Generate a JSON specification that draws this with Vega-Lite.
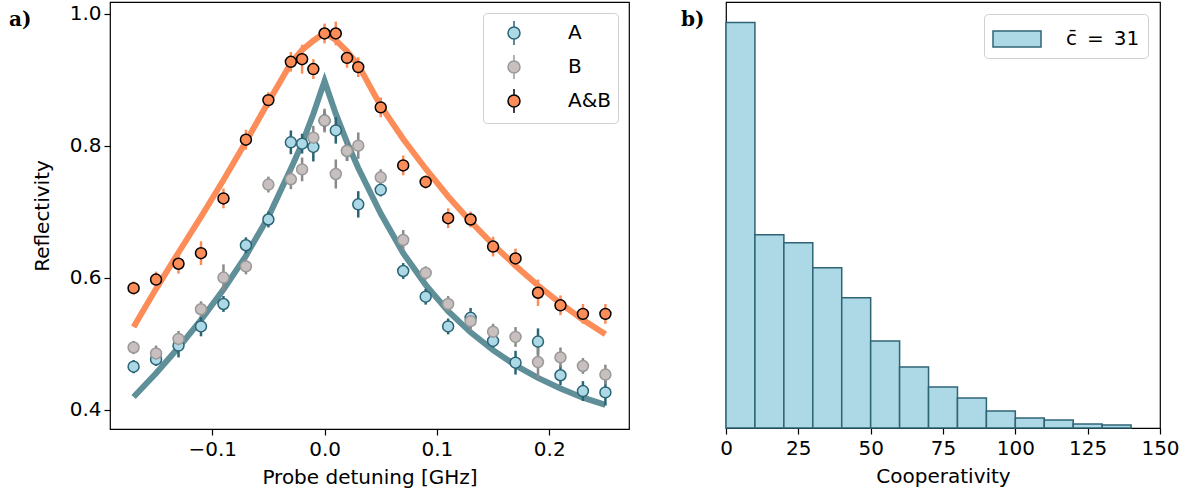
{
  "$schema": "https://vega.github.io/schema/vega-lite/v6.json",
  "background": "white",
  "padding": {"left": 8, "top": 1, "right": 5, "bottom": 5},
  "bounds": "flush",
  "spacing": 97,
  "resolve": {
    "scale": {"fill": "independent", "stroke": "independent", "color": "independent"},
    "legend": {"fill": "independent", "stroke": "independent", "color": "independent"}
  },
  "config": {
    "font": "DejaVu Sans",
    "view": {"stroke": "black", "strokeWidth": 1.2},
    "axis": {"labelFontSize": 20, "titleFontSize": 20, "labelColor": "black", "titleColor": "black", "tickColor": "black", "domain": false, "grid": false, "tickSize": 6, "tickWidth": 1.2, "labelPadding": 4, "labelFlush": false, "titleFontWeight": "normal", "labelFont": "DejaVu Sans", "titleFont": "DejaVu Sans"},
    "legend": {"labelFontSize": 20, "labelColor": "black", "labelFont": "DejaVu Sans", "strokeColor": "#d0d0d0", "fillColor": "white", "cornerRadius": 4}
  },
  "datasets": {
    "pts": [
      {"series": "A", "x": -0.17, "r": 0.465, "err": 0.010},
      {"series": "A", "x": -0.15, "r": 0.476, "err": 0.010},
      {"series": "A", "x": -0.13, "r": 0.497, "err": 0.018},
      {"series": "A", "x": -0.11, "r": 0.526, "err": 0.015},
      {"series": "A", "x": -0.09, "r": 0.560, "err": 0.012},
      {"series": "A", "x": -0.07, "r": 0.649, "err": 0.012},
      {"series": "A", "x": -0.05, "r": 0.688, "err": 0.012},
      {"series": "A", "x": -0.03, "r": 0.805, "err": 0.018},
      {"series": "A", "x": -0.02, "r": 0.803, "err": 0.015},
      {"series": "A", "x": -0.01, "r": 0.798, "err": 0.022},
      {"series": "A", "x": 0.0, "r": 0.838, "err": 0.015},
      {"series": "A", "x": 0.01, "r": 0.823, "err": 0.020},
      {"series": "A", "x": 0.02, "r": 0.792, "err": 0.015},
      {"series": "A", "x": 0.03, "r": 0.711, "err": 0.020},
      {"series": "A", "x": 0.05, "r": 0.733, "err": 0.010},
      {"series": "A", "x": 0.07, "r": 0.610, "err": 0.012},
      {"series": "A", "x": 0.09, "r": 0.571, "err": 0.012},
      {"series": "A", "x": 0.11, "r": 0.526, "err": 0.012},
      {"series": "A", "x": 0.13, "r": 0.539, "err": 0.015},
      {"series": "A", "x": 0.15, "r": 0.504, "err": 0.010},
      {"series": "A", "x": 0.17, "r": 0.471, "err": 0.018},
      {"series": "A", "x": 0.19, "r": 0.503, "err": 0.020},
      {"series": "A", "x": 0.21, "r": 0.452, "err": 0.015},
      {"series": "A", "x": 0.23, "r": 0.428, "err": 0.015},
      {"series": "A", "x": 0.25, "r": 0.426, "err": 0.020},
      {"series": "B", "x": -0.17, "r": 0.494, "err": 0.010},
      {"series": "B", "x": -0.15, "r": 0.485, "err": 0.012},
      {"series": "B", "x": -0.13, "r": 0.507, "err": 0.012},
      {"series": "B", "x": -0.11, "r": 0.552, "err": 0.012},
      {"series": "B", "x": -0.09, "r": 0.600, "err": 0.020},
      {"series": "B", "x": -0.07, "r": 0.617, "err": 0.012},
      {"series": "B", "x": -0.05, "r": 0.741, "err": 0.012},
      {"series": "B", "x": -0.03, "r": 0.749, "err": 0.015},
      {"series": "B", "x": -0.02, "r": 0.764, "err": 0.018},
      {"series": "B", "x": -0.01, "r": 0.812, "err": 0.018},
      {"series": "B", "x": 0.0, "r": 0.838, "err": 0.018},
      {"series": "B", "x": 0.01, "r": 0.757, "err": 0.022},
      {"series": "B", "x": 0.02, "r": 0.792, "err": 0.015},
      {"series": "B", "x": 0.03, "r": 0.800, "err": 0.020},
      {"series": "B", "x": 0.05, "r": 0.752, "err": 0.012},
      {"series": "B", "x": 0.07, "r": 0.657, "err": 0.015},
      {"series": "B", "x": 0.09, "r": 0.607, "err": 0.010},
      {"series": "B", "x": 0.11, "r": 0.560, "err": 0.012},
      {"series": "B", "x": 0.13, "r": 0.534, "err": 0.015},
      {"series": "B", "x": 0.15, "r": 0.518, "err": 0.012},
      {"series": "B", "x": 0.17, "r": 0.510, "err": 0.015},
      {"series": "B", "x": 0.19, "r": 0.472, "err": 0.025},
      {"series": "B", "x": 0.21, "r": 0.479, "err": 0.015},
      {"series": "B", "x": 0.23, "r": 0.466, "err": 0.012},
      {"series": "B", "x": 0.25, "r": 0.453, "err": 0.015},
      {"series": "A&B", "x": -0.17, "r": 0.584, "err": 0.010},
      {"series": "A&B", "x": -0.15, "r": 0.597, "err": 0.012},
      {"series": "A&B", "x": -0.13, "r": 0.621, "err": 0.015},
      {"series": "A&B", "x": -0.11, "r": 0.637, "err": 0.018},
      {"series": "A&B", "x": -0.09, "r": 0.720, "err": 0.015},
      {"series": "A&B", "x": -0.07, "r": 0.809, "err": 0.015},
      {"series": "A&B", "x": -0.05, "r": 0.869, "err": 0.012},
      {"series": "A&B", "x": -0.03, "r": 0.927, "err": 0.015},
      {"series": "A&B", "x": -0.02, "r": 0.931, "err": 0.022},
      {"series": "A&B", "x": -0.01, "r": 0.916, "err": 0.015},
      {"series": "A&B", "x": 0.0, "r": 0.970, "err": 0.015},
      {"series": "A&B", "x": 0.01, "r": 0.970, "err": 0.018},
      {"series": "A&B", "x": 0.02, "r": 0.933, "err": 0.015},
      {"series": "A&B", "x": 0.03, "r": 0.919, "err": 0.015},
      {"series": "A&B", "x": 0.05, "r": 0.858, "err": 0.015},
      {"series": "A&B", "x": 0.07, "r": 0.770, "err": 0.015},
      {"series": "A&B", "x": 0.09, "r": 0.745, "err": 0.010},
      {"series": "A&B", "x": 0.11, "r": 0.690, "err": 0.015},
      {"series": "A&B", "x": 0.13, "r": 0.688, "err": 0.012},
      {"series": "A&B", "x": 0.15, "r": 0.647, "err": 0.015},
      {"series": "A&B", "x": 0.17, "r": 0.629, "err": 0.015},
      {"series": "A&B", "x": 0.19, "r": 0.577, "err": 0.020},
      {"series": "A&B", "x": 0.21, "r": 0.558, "err": 0.015},
      {"series": "A&B", "x": 0.23, "r": 0.545, "err": 0.015},
      {"series": "A&B", "x": 0.25, "r": 0.545, "err": 0.015}
    ],
    "fits": [
      {"fit": "A", "x": -0.17, "r": 0.419},
      {"fit": "A", "x": -0.15, "r": 0.455},
      {"fit": "A", "x": -0.13, "r": 0.494},
      {"fit": "A", "x": -0.11, "r": 0.536},
      {"fit": "A", "x": -0.09, "r": 0.582},
      {"fit": "A", "x": -0.07, "r": 0.633},
      {"fit": "A", "x": -0.05, "r": 0.692},
      {"fit": "A", "x": -0.03, "r": 0.765},
      {"fit": "A", "x": -0.02, "r": 0.803},
      {"fit": "A", "x": -0.01, "r": 0.848},
      {"fit": "A", "x": 0.0, "r": 0.898},
      {"fit": "A", "x": 0.01, "r": 0.848},
      {"fit": "A", "x": 0.02, "r": 0.805},
      {"fit": "A", "x": 0.03, "r": 0.766},
      {"fit": "A", "x": 0.05, "r": 0.697},
      {"fit": "A", "x": 0.07, "r": 0.637},
      {"fit": "A", "x": 0.09, "r": 0.589},
      {"fit": "A", "x": 0.11, "r": 0.549},
      {"fit": "A", "x": 0.13, "r": 0.517},
      {"fit": "A", "x": 0.15, "r": 0.490},
      {"fit": "A", "x": 0.17, "r": 0.467},
      {"fit": "A", "x": 0.19, "r": 0.448},
      {"fit": "A", "x": 0.21, "r": 0.432},
      {"fit": "A", "x": 0.23, "r": 0.418},
      {"fit": "A", "x": 0.25, "r": 0.407},
      {"fit": "A&B", "x": -0.17, "r": 0.525},
      {"fit": "A&B", "x": -0.15, "r": 0.583},
      {"fit": "A&B", "x": -0.13, "r": 0.638},
      {"fit": "A&B", "x": -0.11, "r": 0.692},
      {"fit": "A&B", "x": -0.09, "r": 0.748},
      {"fit": "A&B", "x": -0.07, "r": 0.806},
      {"fit": "A&B", "x": -0.05, "r": 0.866},
      {"fit": "A&B", "x": -0.03, "r": 0.925},
      {"fit": "A&B", "x": -0.02, "r": 0.945},
      {"fit": "A&B", "x": -0.01, "r": 0.959},
      {"fit": "A&B", "x": 0.0, "r": 0.971},
      {"fit": "A&B", "x": 0.01, "r": 0.960},
      {"fit": "A&B", "x": 0.02, "r": 0.943},
      {"fit": "A&B", "x": 0.03, "r": 0.922},
      {"fit": "A&B", "x": 0.05, "r": 0.860},
      {"fit": "A&B", "x": 0.07, "r": 0.810},
      {"fit": "A&B", "x": 0.09, "r": 0.765},
      {"fit": "A&B", "x": 0.11, "r": 0.723},
      {"fit": "A&B", "x": 0.13, "r": 0.685},
      {"fit": "A&B", "x": 0.15, "r": 0.650},
      {"fit": "A&B", "x": 0.17, "r": 0.618},
      {"fit": "A&B", "x": 0.19, "r": 0.588},
      {"fit": "A&B", "x": 0.21, "r": 0.561},
      {"fit": "A&B", "x": 0.23, "r": 0.536},
      {"fit": "A&B", "x": 0.25, "r": 0.514}
    ],
    "hist": [
      {"c0": 0, "c1": 10, "n": 405, "label": "c\u0304\u2002=\u200231"},
      {"c0": 10, "c1": 20, "n": 193, "label": "c\u0304\u2002=\u200231"},
      {"c0": 20, "c1": 30, "n": 185, "label": "c\u0304\u2002=\u200231"},
      {"c0": 30, "c1": 40, "n": 160, "label": "c\u0304\u2002=\u200231"},
      {"c0": 40, "c1": 50, "n": 130, "label": "c\u0304\u2002=\u200231"},
      {"c0": 50, "c1": 60, "n": 87, "label": "c\u0304\u2002=\u200231"},
      {"c0": 60, "c1": 70, "n": 61, "label": "c\u0304\u2002=\u200231"},
      {"c0": 70, "c1": 80, "n": 41, "label": "c\u0304\u2002=\u200231"},
      {"c0": 80, "c1": 90, "n": 30, "label": "c\u0304\u2002=\u200231"},
      {"c0": 90, "c1": 100, "n": 17, "label": "c\u0304\u2002=\u200231"},
      {"c0": 100, "c1": 110, "n": 10, "label": "c\u0304\u2002=\u200231"},
      {"c0": 110, "c1": 120, "n": 8, "label": "c\u0304\u2002=\u200231"},
      {"c0": 120, "c1": 130, "n": 4, "label": "c\u0304\u2002=\u200231"},
      {"c0": 130, "c1": 140, "n": 3, "label": "c\u0304\u2002=\u200231"}
    ]
  },
  "hconcat": [
    {
      "width": 519,
      "height": 427,
      "title": {"text": "a)", "anchor": "start", "frame": "group", "font": "DejaVu Serif", "fontWeight": "bold", "fontSize": 20, "color": "black", "dx": -101, "dy": 28, "offset": 0},
      "resolve": {"scale": {"color": "independent"}, "legend": {"color": "independent"}},
      "layer": [
        {
          "data": {"name": "fits"},
          "transform": [{"filter": "datum.fit === 'A'"}],
          "mark": {"type": "line", "color": "#5f8f99", "strokeWidth": 6},
          "encoding": {
            "x": {"field": "x", "type": "quantitative", "scale": {"domain": [-0.191, 0.271], "nice": false, "zero": false}, "axis": {"values": [-0.1, 0, 0.1, 0.2], "format": ".1f", "title": "Probe detuning [GHz]", "titlePadding": 8}},
            "y": {"field": "r", "type": "quantitative", "scale": {"domain": [0.3705, 1.0177], "nice": false, "zero": false}, "axis": {"values": [0.4, 0.6, 0.8, 1.0], "format": ".1f", "title": "Reflectivity", "titlePadding": 17, "labelPadding": 3}}
          }
        },
        {
          "data": {"name": "fits"},
          "transform": [{"filter": "datum.fit === 'A&B'"}],
          "mark": {"type": "line", "color": "#fc8d59", "strokeWidth": 6},
          "encoding": {
            "x": {"field": "x", "type": "quantitative", "title": "Probe detuning [GHz]"},
            "y": {"field": "r", "type": "quantitative", "title": "Reflectivity"}
          }
        },
        {
          "data": {"name": "pts"},
          "mark": {"type": "errorbar", "thickness": 2.5},
          "encoding": {
            "x": {"field": "x", "type": "quantitative", "title": "Probe detuning [GHz]"},
            "y": {"field": "r", "type": "quantitative", "title": "Reflectivity"},
            "yError": {"field": "err"},
            "color": {"field": "series", "type": "nominal", "scale": {"domain": ["A", "B", "A&B"], "range": ["#2a6475", "#8a8a8a", "#fc8d59"]}, "legend": null}
          }
        },
        {
          "data": {"name": "pts"},
          "mark": {"type": "point", "filled": true, "size": 120, "strokeWidth": 1.5, "opacity": 1},
          "encoding": {
            "x": {"field": "x", "type": "quantitative", "title": "Probe detuning [GHz]"},
            "y": {"field": "r", "type": "quantitative", "title": "Reflectivity"},
            "fill": {"field": "series", "type": "nominal", "scale": {"domain": ["A", "B", "A&B"], "range": ["#add8e6", "#c8bfbf", "#fc8d59"]}, "legend": {"title": null, "orient": "top-right", "offset": 11, "padding": 7, "symbolType": "M0.5,0A0.5,0.5,0,1,1,-0.5,0A0.5,0.5,0,1,1,0.5,0ZM0,-1V-0.5M0,0.5V1", "symbolSize": 576, "symbolStrokeWidth": 1.5, "labelOffset": 41, "rowPadding": 4, "symbolOffset": 11, "encode": {"symbols": {"update": {"stroke": {"signal": "datum.value === 'A' ? '#2a6475' : datum.value === 'B' ? '#8a8a8a' : '#000000'"}}}}}},
            "stroke": {"field": "series", "type": "nominal", "scale": {"domain": ["A", "B", "A&B"], "range": ["#2a6475", "#999999", "#000000"]}, "legend": null}
          }
        }
      ]
    },
    {
      "width": 434,
      "height": 426,
      "title": {"text": "b)", "anchor": "start", "frame": "group", "font": "DejaVu Serif", "fontWeight": "bold", "fontSize": 20, "color": "black", "dx": -45, "dy": 28, "offset": 0},
      "data": {"name": "hist"},
      "mark": {"type": "bar", "stroke": "#2f6475", "strokeWidth": 1.5},
      "encoding": {
        "x": {"field": "c0", "type": "quantitative", "scale": {"domain": [0, 150], "nice": false, "zero": false}, "axis": {"values": [0, 25, 50, 75, 100, 125, 150], "title": "Cooperativity", "titlePadding": 8}},
        "x2": {"field": "c1"},
        "y": {"field": "n", "type": "quantitative", "stack": null, "scale": {"domain": [0, 425.5], "nice": false}, "axis": null},
        "y2": {"datum": 0},
        "fill": {"field": "label", "type": "nominal", "scale": {"range": ["#add8e6"]}, "legend": {"title": null, "orient": "top-right", "offset": 12, "padding": 8, "symbolType": "M-1,-0.5H2V0.5H-1Z", "symbolSize": 1024, "symbolStrokeColor": "#2f6475", "symbolStrokeWidth": 1.5, "labelOffset": 40}}
      }
    }
  ]
}
